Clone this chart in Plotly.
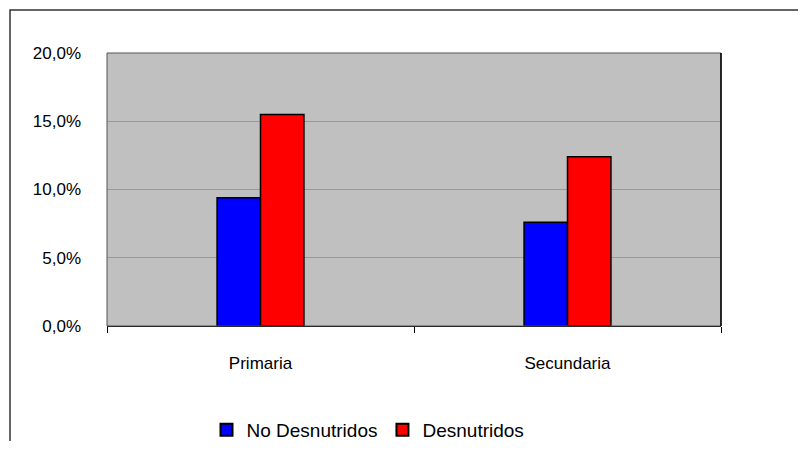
import plotly.graph_objects as go

categories = ["Primaria", "Secundaria"]
no_desnutridos = [9.4, 7.6]
desnutridos = [15.5, 12.4]
series_names = ["No Desnutridos", "Desnutridos"]

FONT = "Liberation Sans, Arial, sans-serif"

fig = go.Figure()
fig.add_trace(go.Bar(x=categories, y=no_desnutridos, name=series_names[0],
                     marker=dict(color="#0000FF", line=dict(color="#000000", width=1.5))))
fig.add_trace(go.Bar(x=categories, y=desnutridos, name=series_names[1],
                     marker=dict(color="#FF0000", line=dict(color="#000000", width=1.5))))

OFF = 8  # page body margin
W, H = 806 - 2 * OFF, 449 - 2 * OFF
L, R, T, B = 107 - OFF, 721 - OFF, 53 - OFF, 326 - OFF
pw, ph = R - L, B - T

def px(x):
    return (x - OFF - L) / pw

def py(y):
    return (B - (y - OFF)) / ph

fig.update_layout(
    width=W, height=H,
    margin=dict(l=L, r=W - R, t=T, b=H - B, pad=0, autoexpand=False),
    paper_bgcolor="white",
    plot_bgcolor="#C0C0C0",
    barmode="group",
    bargap=0.717,
    bargroupgap=0,
    separators=",.",
    font=dict(family=FONT, size=17, color="#000000"),
    showlegend=True,
    legend=dict(orientation="h", x=px(368), xanchor="center", y=py(430), yanchor="middle",
                font=dict(family=FONT, size=19), itemsizing="constant",
                traceorder="normal", bgcolor="rgba(0,0,0,0)"),
    xaxis=dict(showline=True, linecolor="#000000", linewidth=1, mirror=False,
               ticks="outside", tickson="boundaries", ticklen=6, tickcolor="#000000",
               ticklabelstandoff=22, tickfont=dict(family=FONT, size=17),
               showgrid=False),
    yaxis=dict(range=[0, 20], dtick=5, tickformat=".1f", ticksuffix="%",
               showgrid=True, gridcolor="#999999", gridwidth=1,
               showline=False, ticks="", ticklabelstandoff=25,
               tickfont=dict(family=FONT, size=17), zeroline=False),
    shapes=[
        dict(type="rect", xref="paper", yref="paper", x0=0, y0=0, x1=1, y1=1,
             line=dict(color="#555555", width=1), layer="above"),
        dict(type="line", xref="paper", yref="paper", x0=1, y0=0, x1=1, y1=1,
             line=dict(color="#000000", width=1.5), layer="above"),
        dict(type="path", xref="paper", yref="paper",
             path=f"M {px(10)},{py(470)} L {px(10)},{py(10)} L {px(830)},{py(10)}",
             line=dict(color="#333333", width=1.5)),
    ],
)

fig.write_html("out.html")
